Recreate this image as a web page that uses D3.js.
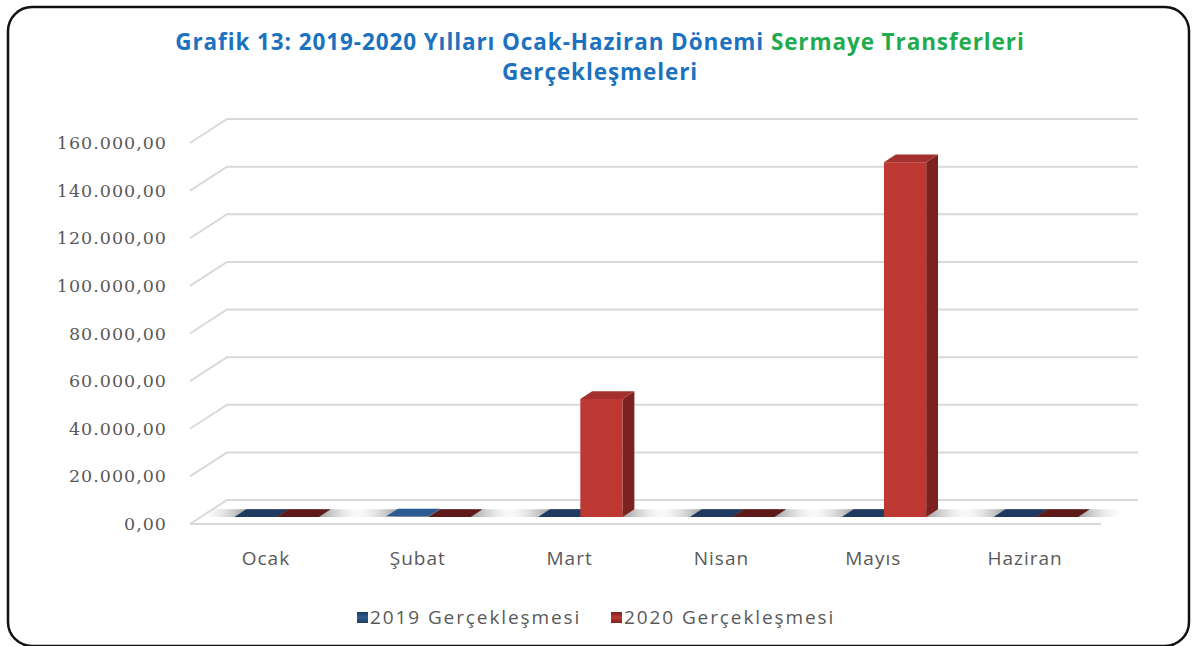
<!DOCTYPE html>
<html>
<head>
<meta charset="utf-8">
<script src="https://cdn.jsdelivr.net/npm/d3@7"></script>
<style>
  body { margin: 0; background: #fff; }
  svg { display: block; }
</style>
</head>
<body>
<div class="chart"></div>
<script>
// DATA ------------------------------------
const months = ['Ocak', 'Şubat', 'Mart', 'Nisan', 'Mayıs', 'Haziran'];
const seriesNames = ['2019 Gerçekleşmesi', '2020 Gerçekleşmesi'];
const values2019 = [0, 300, 0, 0, 0, 0];
const values2020 = [0, 0, 49600, 0, 149000, 0];
const yTicks = [0, 20000, 40000, 60000, 80000, 100000, 120000, 140000, 160000];

// CHART INIT ------------------------------
const W = 1193;
const H = 646;

const svg = d3
  .select('.chart')
  .append('svg')
  .attr('width', W)
  .attr('height', H);

const defs = svg.append('defs');

// frame
svg
  .append('rect')
  .attr('x', 8)
  .attr('y', 7)
  .attr('width', 1181)
  .attr('height', 639)
  .attr('rx', 24)
  .attr('fill', '#fff')
  .attr('stroke', '#111')
  .attr('stroke-width', 2.5);

// title
const title = svg
  .append('text')
  .attr('x', 600)
  .attr('y', 50)
  .attr('text-anchor', 'middle')
  .attr('font-family', 'Open Sans, sans-serif')
  .attr('font-weight', 'bold')
  .attr('font-size', 22.5)
  .attr('letter-spacing', 0.9);
title.append('tspan').attr('fill', '#1c72bf').text('Grafik 13: 2019-2020 Yılları Ocak-Haziran Dönemi ');
title.append('tspan').attr('fill', '#1fab4e').text('Sermaye Transferleri');
svg
  .append('text')
  .attr('x', 600)
  .attr('y', 80)
  .attr('text-anchor', 'middle')
  .attr('font-family', 'Open Sans, sans-serif')
  .attr('font-weight', 'bold')
  .attr('font-size', 22.5)
  .attr('letter-spacing', 0.9)
  .attr('fill', '#1c72bf')
  .text('Gerçekleşmeleri');

// scales (front plane of the floor), plus an oblique depth offset
const xScale = d3.scaleBand().domain(months).range([190, 1101]);
const xSub = d3
  .scaleBand()
  .domain(seriesNames)
  .range([xScale.bandwidth() * 0.222, xScale.bandwidth() * 0.778]);
const yScale = d3.scaleLinear().domain([0, 160000]).range([524, 143]);
const depthX = d3.scaleLinear().domain([0, 1]).range([0, 37]);
const depthY = d3.scaleLinear().domain([0, 1]).range([0, -24]);

const proj = (x, y, d) => [x + depthX(d), y + depthY(d)];
const poly = (pts) => pts.map((p) => p.join(',')).join(' ');

const xLeft = xScale.range()[0];
const xRight = xScale.range()[1];

// gridlines: slant on the side wall, then along the back wall
const grid = svg.append('g');
yTicks.forEach((t) => {
  const y = yScale(t);
  const a = [xLeft, y];
  const b = proj(xLeft, y, 1);
  const c = proj(xRight, y, 1);
  grid
    .append('polyline')
    .attr('points', poly([a, b, c]))
    .attr('fill', 'none')
    .attr('stroke', '#d9d9d9')
    .attr('stroke-width', 2);
});
// floor front edge
grid
  .append('line')
  .attr('x1', xLeft)
  .attr('x2', xRight)
  .attr('y1', yScale(0))
  .attr('y2', yScale(0))
  .attr('stroke', '#d9d9d9')
  .attr('stroke-width', 2);

// y axis labels
svg
  .append('g')
  .selectAll('text')
  .data(yTicks)
  .join('text')
  .attr('x', 167)
  .attr('y', (d) => yScale(d) + 6)
  .attr('text-anchor', 'end')
  .attr('font-family', 'DejaVu Serif, serif')
  .attr('font-size', 17.5)
  .attr('letter-spacing', 1)
  .attr('fill', '#595959')
  .text((d) => d3.format(',.2f')(d).replace(/,/g, '#').replace('.', ',').replace(/#/g, '.'));

// x axis labels
svg
  .append('g')
  .selectAll('text')
  .data(months)
  .join('text')
  .attr('x', (d) => xScale(d) + xScale.bandwidth() / 2)
  .attr('y', 565)
  .attr('text-anchor', 'middle')
  .attr('font-family', 'Open Sans, sans-serif')
  .attr('font-size', 19)
  .attr('letter-spacing', 1)
  .attr('fill', '#595959')
  .text((d) => d);

// bars
const d0 = 0.29;
const d1 = 0.61;
const series = [
  { name: seriesNames[0], values: values2019, front: '#2f5b91', side: '#1e3c63', top: '#2c5a92', flat: '#1f3a60' },
  { name: seriesNames[1], values: values2020, front: '#bd3833', side: '#7b2220', top: '#a3302c', flat: '#5e1a18' }
];

// floor shadows under each pair
const sh = defs.append('linearGradient').attr('id', 'shadow').attr('x1', 0).attr('x2', 1);
sh.append('stop').attr('offset', 0).attr('stop-color', '#fff').attr('stop-opacity', 0);
sh.append('stop').attr('offset', 0.3).attr('stop-color', '#8c8c8c').attr('stop-opacity', 0.9);
sh.append('stop').attr('offset', 0.7).attr('stop-color', '#8c8c8c').attr('stop-opacity', 0.9);
sh.append('stop').attr('offset', 1).attr('stop-color', '#fff').attr('stop-opacity', 0);

const shadowG = svg.append('g');
months.forEach((m) => {
  const xa = xScale(m) + xSub(seriesNames[0]) - 38;
  const xb = xScale(m) + xSub(seriesNames[1]) + xSub.bandwidth() + 38;
  const y = yScale(0);
  shadowG
    .append('polygon')
    .attr('points', poly([proj(xa, y, d0), proj(xb, y, d0), proj(xb, y, d1), proj(xa, y, d1)]))
    .attr('fill', 'url(#shadow)');
});

const barG = svg.append('g');
months.forEach((m, i) => {
  series.forEach((s) => {
    const v = s.values[i];
    const xa = xScale(m) + xSub(s.name);
    const xb = xa + xSub.bandwidth();
    const yb = yScale(0);
    const yt = yScale(v);
    const g = barG.append('g');
    const tall = yb - yt > 2;
    if (tall) {
      // side face
      g.append('polygon')
        .attr('points', poly([proj(xb, yb, d0), proj(xb, yb, d1), proj(xb, yt, d1), proj(xb, yt, d0)]))
        .attr('fill', s.side);
      // front face
      g.append('polygon')
        .attr('points', poly([proj(xa, yb, d0), proj(xb, yb, d0), proj(xb, yt, d0), proj(xa, yt, d0)]))
        .attr('fill', s.front);
    }
    // top face
    g.append('polygon')
      .attr('points', poly([proj(xa, yt, d0), proj(xb, yt, d0), proj(xb, yt, d1), proj(xa, yt, d1)]))
      .attr('fill', tall ? s.top : v > 0 ? s.top : s.flat);
  });
});

// legend
const legend = svg.append('g');
const legendX = [357, 611];
series.forEach((s, i) => {
  const gr = defs.append('linearGradient').attr('id', 'lg' + i).attr('x1', 0).attr('x2', 0).attr('y1', 0).attr('y2', 1);
  gr.append('stop').attr('offset', 0).attr('stop-color', s.side);
  gr.append('stop').attr('offset', 0.5).attr('stop-color', s.front);
  gr.append('stop').attr('offset', 1).attr('stop-color', s.side);
  legend
    .append('rect')
    .attr('x', legendX[i])
    .attr('y', 612)
    .attr('width', 11)
    .attr('height', 11)
    .attr('fill', 'url(#lg' + i + ')');
  legend
    .append('text')
    .attr('x', legendX[i] + 13)
    .attr('y', 624)
    .attr('font-family', 'Open Sans, sans-serif')
    .attr('font-size', 19)
    .attr('letter-spacing', 1.9)
    .attr('fill', '#595959')
    .text(s.name);
});
</script>
</body>
</html>
